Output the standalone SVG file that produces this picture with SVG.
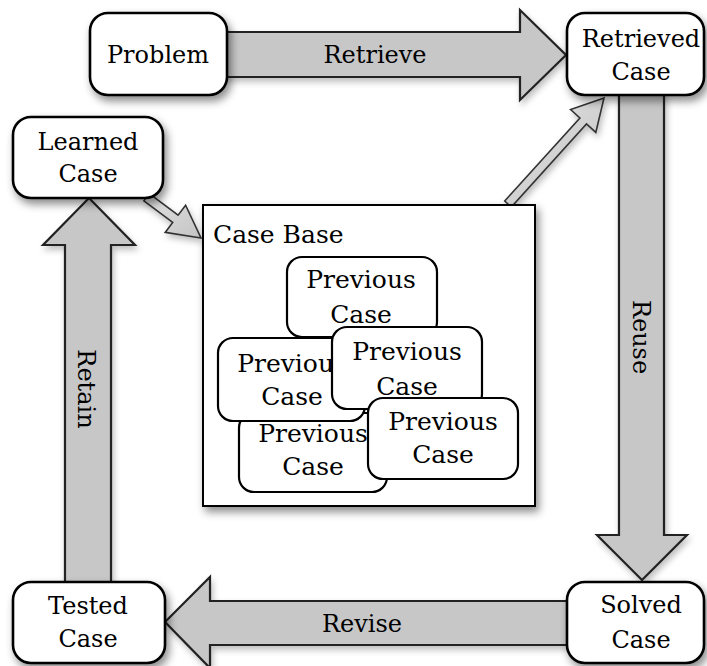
<svg xmlns="http://www.w3.org/2000/svg" width="707" height="666" viewBox="0 0 707 666">
  <defs>
    <filter id="shadow" x="-20%" y="-20%" width="150%" height="150%">
      <feDropShadow dx="3" dy="5" stdDeviation="4" flood-color="#000" flood-opacity="0.45"/>
    </filter>
    <filter id="softshadow" x="-20%" y="-20%" width="150%" height="150%">
      <feDropShadow dx="2" dy="4" stdDeviation="3" flood-color="#000" flood-opacity="0.25"/>
    </filter>
    <linearGradient id="thin" x1="0" y1="0" x2="1" y2="1">
      <stop offset="0" stop-color="#e2e2e2"/>
      <stop offset="1" stop-color="#c4c4c4"/>
    </linearGradient>
  </defs>
  <style>
    .big { fill: #c7c7c7; stroke: #222; stroke-width: 2.2; stroke-linejoin: miter; filter: url(#softshadow); }
    .thin { fill: url(#thin); stroke: #333; stroke-width: 1.6; stroke-linejoin: miter; filter: url(#softshadow); }
    .node { fill: #fff; stroke: #000; stroke-width: 2.6; filter: url(#shadow); }
    .prev { fill: #fff; stroke: #000; stroke-width: 2.2; }
    .base { fill: #fff; stroke: #000; stroke-width: 2; filter: url(#shadow); }
    text { font-family: "DejaVu Serif", "Liberation Serif", serif; font-size: 24px; fill: #000; }
    .c { text-anchor: middle; }
    .sm { font-size: 25px; }
  </style>

  <!-- process arrows -->
  <g id="connectors">
    <polygon class="big" points="222,32 520,32 520,10 566,55 520,100 520,77 222,77"/>
    <polygon class="big" points="619,90 664,90 664,535 687,535 642,580 597,535 619,535"/>
    <polygon class="big" points="572,601 572,645 210,645 210,668 165,622 210,577 210,601"/>
    <polygon class="big" points="65,588 65,245 43,245 89,198 135,245 111,245 111,588"/>
    <polygon class="thin" points="143.9,200.8 172.7,222.4 165.2,232.4 201,238 185.6,205.2 178.1,215.2 149.3,193.6"/>
    <polygon class="thin" points="504.7,201 579.9,118 570.6,109.6 604,98 595.8,132.4 586.5,124 511.3,207"/>
    <text class="c" x="375" y="63">Retrieve</text>
    <text class="c" x="362" y="632">Revise</text>
    <text class="c" transform="translate(633,337) rotate(90)">Reuse</text>
    <text class="c" transform="translate(78,389) rotate(90)">Retain</text>
  </g>

  <g id="problem">
    <rect class="node" x="90" y="13" width="137" height="82" rx="18"/>
    <text class="c" x="158" y="63">Problem</text>
  </g>

  <g id="retrieved-case">
    <rect class="node" x="567" y="13" width="137" height="82" rx="18"/>
    <text class="c" x="641" y="47">Retrieved</text>
    <text class="c" x="641" y="80">Case</text>
  </g>

  <g id="learned-case">
    <rect class="node" x="13" y="117" width="150" height="81" rx="18"/>
    <text class="c" x="88" y="150">Learned</text>
    <text class="c" x="88" y="182">Case</text>
  </g>

  <g id="tested-case">
    <rect class="node" x="13" y="582" width="152" height="81" rx="18"/>
    <text class="c" x="88" y="614">Tested</text>
    <text class="c" x="88" y="647">Case</text>
  </g>

  <g id="solved-case">
    <rect class="node" x="567" y="582" width="137" height="81" rx="18"/>
    <text class="c" x="641" y="613">Solved</text>
    <text class="c" x="641" y="648">Case</text>
  </g>

  <g id="case-base">
    <rect class="base" x="203" y="205" width="332" height="301"/>
    <text x="213" y="243" class="sm">Case Base</text>

    <g id="previous-case-3">
      <rect class="prev" x="239" y="413" width="148" height="79" rx="15"/>
      <text class="c sm" x="313" y="442">Previous</text>
      <text class="c sm" x="313" y="475">Case</text>
    </g>
    <g id="previous-case-2">
      <rect class="prev" x="218" y="338" width="147" height="83" rx="15"/>
      <text class="c sm" x="292" y="372">Previous</text>
      <text class="c sm" x="292" y="405">Case</text>
    </g>
    <g id="previous-case-1">
      <rect class="prev" x="287" y="257" width="150" height="80" rx="15"/>
      <text class="c sm" x="361" y="288">Previous</text>
      <text class="c sm" x="361" y="323">Case</text>
    </g>
    <g id="previous-case-4">
      <rect class="prev" x="332" y="327" width="150" height="82" rx="15"/>
      <text class="c sm" x="407" y="360">Previous</text>
      <text class="c sm" x="407" y="395">Case</text>
    </g>
    <g id="previous-case-5">
      <rect class="prev" x="368" y="398" width="150" height="81" rx="15"/>
      <text class="c sm" x="443" y="430">Previous</text>
      <text class="c sm" x="443" y="463">Case</text>
    </g>
  </g>
</svg>
